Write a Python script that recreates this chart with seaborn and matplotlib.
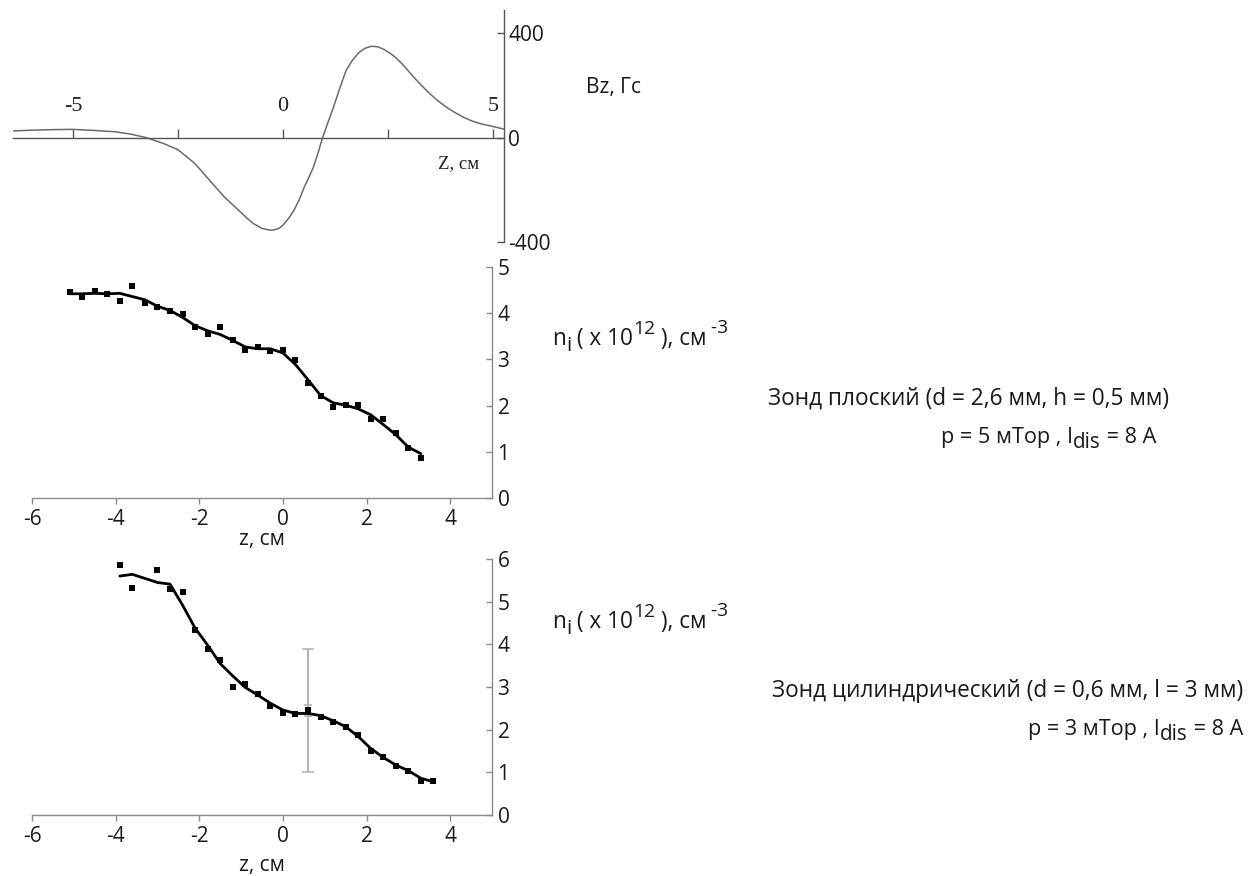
import numpy as np
import pandas as pd
import matplotlib
matplotlib.use("Agg")
import matplotlib.pyplot as plt
import seaborn as sns

# ---------------- data ----------------
# Top panel: magnetic field Bz (Гс) vs Z (см)
bz_z = [-6.42, -6.0, -5.5, -5.0, -4.5, -4.0, -3.6, -3.25, -2.85, -2.5, -2.1, -1.75,
        -1.4, -1.0, -0.85, -0.7, -0.5, -0.3, -0.2, -0.1, 0.0, 0.12, 0.25, 0.38, 0.5,
        0.6, 0.72, 0.83, 0.94, 1.05, 1.2, 1.35, 1.5, 1.65, 1.8, 1.95, 2.1, 2.25, 2.4,
        2.55, 2.7, 2.9, 3.1, 3.3, 3.5, 3.7, 3.9, 4.1, 4.3, 4.5, 4.7, 5.0, 5.26]
bz_val = [26, 29, 31, 32, 28, 23, 13, 0, -22, -46, -99, -163,
          -227, -287, -310, -330, -348, -355, -353, -348, -335, -312, -281, -240, -191,
          -157, -114, -60, 0, 50, 117, 190, 258, 297, 326, 343, 351, 349, 339,
          324, 305, 272, 234, 200, 168, 140, 116, 96, 78, 64, 54, 43, 33]
bz_ticks = [-400, 0, 400]
bz_xlabels = ["-5", "0", "5"]
bz_xlabel_pos = [-5, 0, 5]
bz_xticks = [-5, -2.5, 0, 2.5, 5]

# Middle panel: flat probe
z_flat = [-5.1, -4.8, -4.5, -4.2, -3.9, -3.6, -3.3, -3.0, -2.7, -2.4, -2.1, -1.8,
          -1.5, -1.2, -0.9, -0.6, -0.3, 0.0, 0.3, 0.6, 0.9, 1.2, 1.5, 1.8, 2.1,
          2.4, 2.7, 3.0, 3.3]
n_flat = [4.45, 4.34, 4.48, 4.42, 4.26, 4.59, 4.22, 4.13, 4.05, 3.98, 3.70, 3.56,
          3.70, 3.42, 3.21, 3.27, 3.19, 3.20, 2.99, 2.49, 2.20, 1.97, 2.01, 2.01, 1.71,
          1.70, 1.41, 1.08, 0.86]
fit_flat = [4.42, 4.42, 4.43, 4.42, 4.43, 4.36, 4.29, 4.15, 4.06, 3.91, 3.73, 3.62,
            3.54, 3.41, 3.27, 3.23, 3.23, 3.14, 2.89, 2.56, 2.22, 2.06, 2.01, 1.93, 1.80,
            1.59, 1.37, 1.10, 0.96]

# Bottom panel: cylindrical probe
z_cyl = [-3.9, -3.6, -3.0, -2.7, -2.4, -2.1, -1.8, -1.5, -1.2, -0.9, -0.6, -0.3,
         0.0, 0.3, 0.6, 0.9, 1.2, 1.5, 1.8, 2.1, 2.4, 2.7, 3.0, 3.3, 3.6]
n_cyl = [5.86, 5.31, 5.74, 5.30, 5.23, 4.33, 3.89, 3.63, 3.01, 3.07, 2.83, 2.56,
         2.38, 2.36, 2.45, 2.30, 2.17, 2.07, 1.88, 1.51, 1.35, 1.15, 1.04, 0.80, 0.79]
fit_cyl = [5.60, 5.64, 5.45, 5.41, 4.92, 4.38, 3.98, 3.55, 3.26, 2.99, 2.81, 2.62,
           2.46, 2.38, 2.38, 2.33, 2.21, 2.07, 1.84, 1.56, 1.35, 1.17, 1.04, 0.86, 0.78]
err_z = [0.6, 0.6]
err_center = [2.45, 2.45]
err_half = [1.45, 0.13]

x_ticks = [-6, -4, -2, 0, 2, 4]
y_ticks_flat = [0, 1, 2, 3, 4, 5]
y_ticks_cyl = [0, 1, 2, 3, 4, 5, 6]

# ---------------- style ----------------
sns.set_theme(style="white")
plt.rcParams["font.family"] = ["Open Sans", "DejaVu Sans"]
plt.rcParams["axes.unicode_minus"] = False
plt.rcParams["text.color"] = "#1a1a1a"

W, H = 1259, 876
fig = plt.figure(figsize=(W / 100, H / 100), dpi=100)
fig.patch.set_facecolor("white")


def px_axes(left, top, right, bottom):
    return fig.add_axes([left / W, 1 - bottom / H, (right - left) / W, (bottom - top) / H])


FS = 15
AXC = "#8a8a8a"

# ---------------- top panel ----------------
ax1 = px_axes(13, 10, 504, 242)
ax1.set_facecolor("none")
df_bz = pd.DataFrame({"z": bz_z, "Bz": bz_val})
sns.lineplot(data=df_bz, x="z", y="Bz", ax=ax1, color="#6a6a6a", lw=1.1, estimator=None)
ax1.set_xlim(-6.43, 5.26)
ax1.set_ylim(-400, 490)
for s in ["left", "top"]:
    ax1.spines[s].set_visible(False)
ax1.spines["bottom"].set_position(("data", 0))
for s in ["bottom", "right"]:
    ax1.spines[s].set_color("#555555")
    ax1.spines[s].set_linewidth(1.0)
ax1.set_xticks(bz_xticks)
ax1.set_xticklabels([])
ax1.tick_params(axis="x", direction="in", length=6.7, width=1.0, color="#555555", bottom=True)
ax1.yaxis.tick_right()
ax1.set_yticks(bz_ticks)
ax1.set_yticklabels([str(v) for v in bz_ticks])
ax1.tick_params(axis="y", direction="in", length=5, width=1.0, color="#555555",
                labelsize=FS, pad=3, right=True, labelcolor="#1a1a1a")
ax1.set_xlabel("")
ax1.set_ylabel("")
for pos, lbl in zip(bz_xlabel_pos, bz_xlabels):
    ax1.text(pos, 119, lbl, ha="center", va="center", fontsize=16,
             family="Liberation Serif", color="#222222")
fig.text(438 / W, 1 - 164 / H, "Z, см", ha="left", va="center", fontsize=13.5,
         family="Liberation Serif", color="#222222")
fig.text(586 / W, 1 - 87 / H, "Bz, Гс", ha="left", va="center", fontsize=FS)


# ---------------- density panels ----------------
def density_axes(ax, z, n, fit, ylim, yticks, labelpad):
    sns.lineplot(x=z, y=fit, ax=ax, color="black", lw=2.0, estimator=None, zorder=3)
    sns.scatterplot(x=z, y=n, ax=ax, color="black", marker="s", s=24, linewidth=0, zorder=4)
    ax.set_xlim(-6, 5)
    ax.set_ylim(*ylim)
    for s in ["left", "top"]:
        ax.spines[s].set_visible(False)
    for s in ["bottom", "right"]:
        ax.spines[s].set_color(AXC)
        ax.spines[s].set_linewidth(1.0)
    ax.set_xticks(x_ticks)
    ax.set_xticklabels([str(v) for v in x_ticks])
    ax.tick_params(axis="x", direction="out", length=4, width=1.0, color=AXC,
                   labelsize=FS, pad=4, bottom=True, labelcolor="#1a1a1a")
    ax.yaxis.tick_right()
    ax.set_yticks(yticks)
    ax.set_yticklabels([str(v) for v in yticks])
    ax.tick_params(axis="y", direction="in", length=4, width=1.0, color=AXC,
                   labelsize=FS, pad=4, right=True, labelcolor="#1a1a1a")
    ax.set_xlabel("z, см", fontsize=FS, labelpad=labelpad, color="#1a1a1a")
    ax.set_ylabel("")


ax2 = px_axes(32, 267, 492, 498)
density_axes(ax2, z_flat, n_flat, fit_flat, (0, 5), y_ticks_flat, -1)

ax3 = px_axes(32, 559, 492, 815)
ax3.errorbar(err_z[0], err_center[0], yerr=err_half[0], fmt="none", ecolor="#b5b5b5",
             elinewidth=1.5, capsize=4, capthick=1.2, zorder=2)
ax3.errorbar(err_z[1], err_center[1], yerr=err_half[1], fmt="none", ecolor="#b5b5b5",
             elinewidth=1.5, capsize=3, capthick=1.2, zorder=2)
density_axes(ax3, z_cyl, n_cyl, fit_cyl, (0, 6), y_ticks_cyl, 6)


# ---------------- annotations with Excel-like sub/superscripts ----------------
renderer = fig.canvas.get_renderer()


def runs_text(x_px, base_px, runs, size, ha="left"):
    """runs: list of (string, relative size, vertical offset in px (up positive))."""
    items = []
    for s, rel, dy in runs:
        t = fig.text(0, 0, s, fontsize=size * rel, ha="left", va="baseline")
        items.append((t, dy))
    widths = [t.get_window_extent(renderer).width for t, _ in items]
    x0 = x_px if ha == "left" else x_px - sum(widths)
    for (t, dy), w in zip(items, widths):
        t.set_position((x0 / W, 1 - (base_px - dy) / H))
        x0 += w


FT = 16.3
FP = 15.6
ni_runs = [("n", 1.0, 0), ("i", 0.9, -6), (" ( x 10", 1.0, 0), ("12", 0.85, 11),
           (" ), см", 1.0, 0), (" -3", 0.85, 12)]
runs_text(552, 345, ni_runs, FT)
runs_text(552, 628, ni_runs, FT)

runs_text(768, 405, [("Зонд плоский (d = 2,6 мм, h = 0,5 мм)", 1.0, 0)], FT)
runs_text(941, 443, [("p = 5 мТор , I", 1.0, 0), ("dis", 0.95, -5), (" = 8 А", 1.0, 0)], FP)
runs_text(1243, 697, [("Зонд цилиндрический (d = 0,6 мм, l = 3 мм)", 1.0, 0)], FT,
          ha="right")
runs_text(1243, 735, [("p = 3 мТор , I", 1.0, 0), ("dis", 0.95, -5), (" = 8 А", 1.0, 0)],
          FP, ha="right")

fig.savefig("out.png", dpi=100, facecolor="white")
